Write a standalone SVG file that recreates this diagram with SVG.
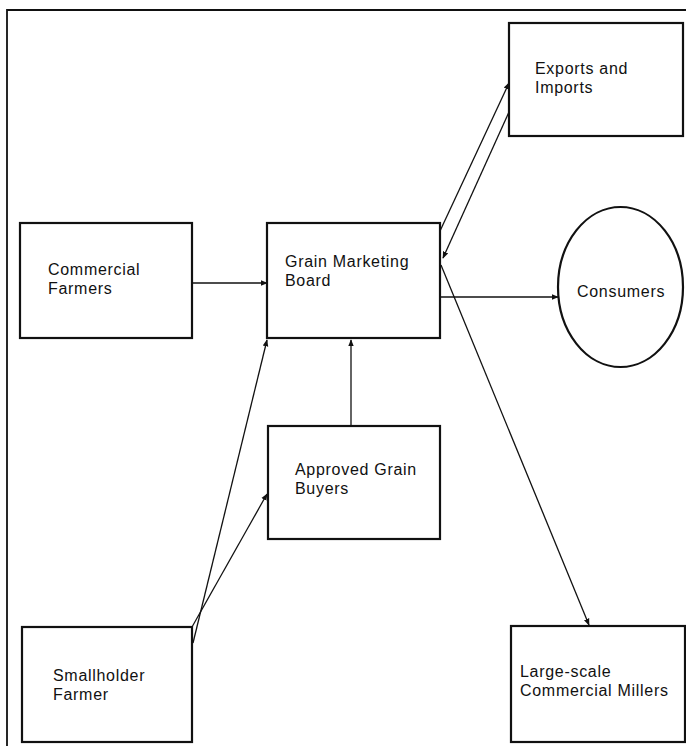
<svg xmlns="http://www.w3.org/2000/svg" width="686" height="748" viewBox="0 0 686 748">
<style>
.box{fill:#fff;stroke:#111;stroke-width:2.2}
.frame{fill:none;stroke:#111;stroke-width:1.8}
.lbl{font-family:"Liberation Sans",Arial,sans-serif;font-size:16px;letter-spacing:0.7px;fill:#111}
.con line{stroke:#111;stroke-width:1.3;fill:none}
</style>
<defs>
<marker id="ah" viewBox="0 0 10 10" refX="9" refY="5" markerWidth="7" markerHeight="7" markerUnits="userSpaceOnUse" orient="auto">
<path d="M0,1 L10,5 L0,9 z" fill="#111"/>
</marker>
</defs>
<rect width="686" height="748" fill="#fff"/>
<path class="frame" d="M7,746 L7,10 L686,10"/>
<g id="exports"><rect class="box" x="509" y="23" width="174" height="113"/><text class="lbl" x="535" y="74">Exports and</text><text class="lbl" x="535" y="92.5">Imports</text></g>
<g id="commercial-farmers"><rect class="box" x="20" y="223" width="172" height="115"/><text class="lbl" x="48" y="275">Commercial</text><text class="lbl" x="48" y="293.5">Farmers</text></g>
<g id="gmb"><rect class="box" x="267" y="223" width="173" height="115"/><text class="lbl" x="285" y="267">Grain Marketing</text><text class="lbl" x="285" y="285.5">Board</text></g>
<g id="consumers"><ellipse class="box" cx="620.5" cy="287" rx="62.5" ry="80"/><text class="lbl" x="577" y="297">Consumers</text></g>
<g id="approved-buyers"><rect class="box" x="268" y="426" width="172" height="113"/><text class="lbl" x="295" y="475">Approved Grain</text><text class="lbl" x="295" y="493.5">Buyers</text></g>
<g id="smallholder"><rect class="box" x="22" y="627" width="170" height="115"/><text class="lbl" x="53" y="681">Smallholder</text><text class="lbl" x="53" y="699.5">Farmer</text></g>
<g id="millers"><rect class="box" x="511" y="626" width="174" height="116"/><text class="lbl" x="520" y="677" letter-spacing="0.3">Large-scale</text><text class="lbl" x="520" y="695.5" letter-spacing="0.3">Commercial Millers</text></g>
<g id="connectors" class="con">
<line x1="192" y1="283" x2="267" y2="283" marker-end="url(#ah)"/>
<line x1="440" y1="297" x2="558" y2="297" marker-end="url(#ah)"/>
<line x1="440" y1="231" x2="509" y2="83" marker-end="url(#ah)"/>
<line x1="509" y1="112" x2="443" y2="258" marker-end="url(#ah)"/>
<line x1="441" y1="265" x2="589" y2="625" marker-end="url(#ah)"/>
<line x1="351" y1="426" x2="351" y2="340" marker-end="url(#ah)"/>
<line x1="193" y1="643" x2="267" y2="340" marker-end="url(#ah)"/>
<line x1="192" y1="627" x2="267" y2="494" marker-end="url(#ah)"/>
</g>
</svg>
